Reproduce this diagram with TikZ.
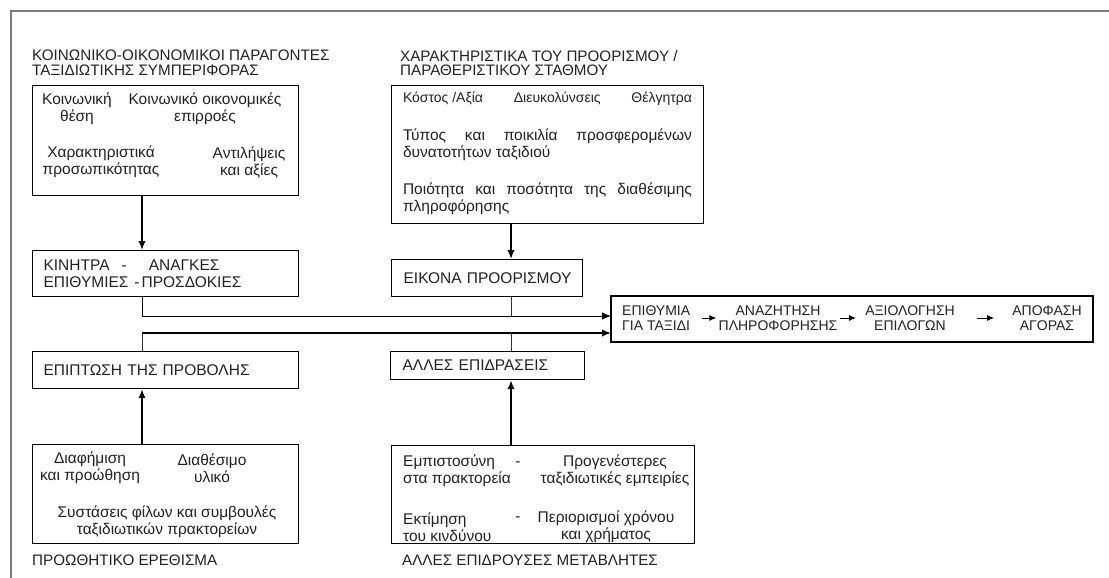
\documentclass[tikz,border=0pt]{standalone}
\usepackage{fontspec}
\setmainfont{Liberation Sans}
\usepackage{xcolor}
\usepackage{tikz}
\usetikzlibrary{arrows.meta, positioning}
\definecolor{inkgray}{HTML}{222222}
\definecolor{framegray}{HTML}{7A7A7A}

\begin{document}
\begin{tikzpicture}[x=1pt, y=-1pt,
    font=\fontsize{15.5}{17}\selectfont, text=inkgray,
    box/.style={rectangle, draw=black, line width=1.2pt, inner ysep=0pt,
                anchor=north west, align=left},
    heading/.style={anchor=north west, align=left, inner sep=0pt,
                    font=\fontsize{15.2}{14.5}\selectfont},
    cell/.style={align=center, inner sep=0pt},
    stage/.style={align=center, inner sep=0pt, font=\fontsize{14}{15}\selectfont},
    arrow/.style={-{Latex[length=9pt, width=7.5pt]}, line width=1.7pt, draw=black},
    flow/.style={-{Latex[length=9pt, width=7.5pt]}, line width=0.9pt, draw=black},
    flowthick/.style={-{Latex[length=9pt, width=7.5pt]}, line width=1.7pt, draw=black},
    link/.style={line width=0.8pt, draw=black!80},
    step arrow/.style={-{Latex[length=7pt, width=6pt]}, line width=1pt, draw=black}
  ]
    \useasboundingbox (0,0) rectangle (1109,578);
    \draw[framegray, line width=1.8pt] (11,578) -- (11,11) -- (1109,11);

    % column headings
    \node[heading] (socT)   at (32,50)  {ΚΟΙΝΩΝΙΚΟ-ΟΙΚΟΝΟΜΙΚΟΙ ΠΑΡΑΓΟΝΤΕΣ\\ΤΑΞΙΔΙΩΤΙΚΗΣ ΣΥΜΠΕΡΙΦΟΡΑΣ};
    \node[heading] (destT)  at (400,50) {ΧΑΡΑΚΤΗΡΙΣΤΙΚΑ ΤΟΥ ΠΡΟΟΡΙΣΜΟΥ /\\ΠΑΡΑΘΕΡΙΣΤΙΚΟΥ ΣΤΑΘΜΟΥ};
    \node[heading] (promoT) at (32,555) {ΠΡΟΩΘΗΤΙΚΟ ΕΡΕΘΙΣΜΑ};
    \node[heading] (othT)   at (402,555) {ΑΛΛΕΣ ΕΠΙΔΡΟΥΣΕΣ ΜΕΤΑΒΛΗΤΕΣ};

    % factor boxes
    \node[box, minimum width=266, minimum height=110] (soc)   at (32,85)  {};
    \node[box, minimum width=312, minimum height=138] (dest)  at (391,85) {};
    \node[box, minimum width=266, minimum height=99]  (promo) at (32,444) {};
    \node[box, minimum width=303, minimum height=98]  (oth)   at (391,445) {};

    \node[cell] (soc1) at (77,109)  {Κοινωνική\\θέση};
    \node[cell] (soc2) at (205,109) {Κοινωνικό οικονομικές\\επιρροές};
    \node[cell] (soc3) at (101,162) {Χαρακτηριστικά\\προσωπικότητας};
    \node[cell] (soc4) at (249,162) {Αντιλήψεις\\και αξίες};

    \node[cell, text width=289, align=justify, font=\fontsize{14}{15}\selectfont]
      (dest1) at (547.5,99) {Κόστος /Αξία\hfill Διευκολύνσεις\hfill Θέλγητρα};
    \node[cell, text width=289, align=justify] (dest2) at (547.5,145)
      {Τύπος και ποικιλία προσφερομένων\linebreak δυνατοτήτων ταξιδιού};
    \node[cell, text width=289, align=justify] (dest3) at (547.5,198.5)
      {Ποιότητα και ποσότητα της διαθέσιμης\linebreak πληροφόρησης};

    \node[cell] (promo1) at (90,468)  {Διαφήμιση\\και προώθηση};
    \node[cell] (promo2) at (212,468) {Διαθέσιμο\\υλικό};
    \node[cell] (promo3) at (167,522) {Συστάσεις φίλων και συμβουλές\\ταξιδιωτικών πρακτορείων};

    \node[cell, anchor=west, align=left] (oth1) at (403,471) {Εμπιστοσύνη\\στα πρακτορεία};
    \node[cell] (othd1) at (518,464) {-};
    \node[cell] (oth2) at (615,471) {Προγενέστερες\\ταξιδιωτικές εμπειρίες};
    \node[cell, anchor=west, align=left] (oth3) at (403,527) {Εκτίμηση\\του κινδύνου};
    \node[cell] (othd2) at (518,519) {-};
    \node[cell] (oth4) at (606,527) {Περιορισμοί χρόνου\\και χρήματος};

    % intermediate boxes
    \node[box, minimum width=266, minimum height=46, text width=244, inner xsep=11]
      (mot) at (32,250) {ΚΙΝΗΤΡΑ\hspace{12pt}-\hspace{22pt}ΑΝΑΓΚΕΣ\\ΕΠΙΘΥΜΙΕΣ\hspace{6pt}-\hspace{2pt}ΠΡΟΣΔΟΚΙΕΣ};
    \node[box, minimum width=191, minimum height=37, text width=179, inner xsep=6]
      (img) at (391,259) {\hspace*{6pt}ΕΙΚΟΝΑ ΠΡΟΟΡΙΣΜΟΥ};
    \node[box, minimum width=266, minimum height=37, text width=244, inner xsep=11]
      (imp) at (32,351) {ΕΠΙΠΤΩΣΗ ΤΗΣ ΠΡΟΒΟΛΗΣ};
    \node[box, minimum width=194, minimum height=28, text width=170, inner xsep=12]
      (eff) at (390,351) {ΑΛΛΕΣ ΕΠΙΔΡΑΣΕΙΣ};

    % decision process
    \node[box, anchor=center, minimum width=482, minimum height=46] (goal) at (852,319) {};
    \node[stage, anchor=west, align=left] (g1) at (622,318) {ΕΠΙΘΥΜΙΑ\\ΓΙΑ ΤΑΞΙΔΙ};
    \node[stage] (g2) at (778,318)  {ΑΝΑΖΗΤΗΣΗ\\ΠΛΗΡΟΦΟΡΗΣΗΣ};
    \node[stage] (g3) at (910,318)  {ΑΞΙΟΛΟΓΗΣΗ\\ΕΠΙΛΟΓΩΝ};
    \node[stage] (g4) at (1047,318) {ΑΠΟΦΑΣΗ\\ΑΓΟΡΑΣ};

    \draw[step arrow, shorten <=12pt, shorten >=2pt]  (g1.east) -- (g2.west);
    \draw[step arrow, shorten <=2pt, shorten >=9pt]   (g2.east) -- (g3.west);
    \draw[step arrow, shorten <=22pt, shorten >=18pt] (g3.east) -- (g4.west);

    % connectors
    \coordinate (lx) at (142,0);
    \coordinate (mx) at (511,0);
    \coordinate (in1) at (611,316);
    \coordinate (in2) at (611,333);

    \draw[arrow] (soc.south -| lx) -- (mot.north -| lx);
    \draw[arrow] (dest.south -| mx) -- (img.north -| mx);
    \draw[arrow] (promo.north -| lx) -- (imp.south -| lx);
    \draw[arrow] (oth.north -| mx) -- (eff.south -| mx);

    \draw[flow] (mot.south -| lx) |- (in1);
    \draw[link] (img.south -| mx) -- (in1 -| mx);
    \draw[link] (imp.north -| lx) -- (in2 -| lx);
    \draw[flowthick] (in2 -| lx) -- (in2);
    \draw[link] (eff.north -| mx) -- (in2 -| mx);
\end{tikzpicture}
\end{document}
